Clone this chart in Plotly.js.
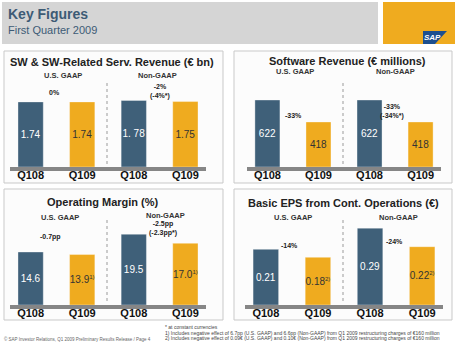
<!DOCTYPE html>
<html>
<head>
<meta charset="utf-8">
<script src="https://cdn.plot.ly/plotly-3.0.1.min.js"></script>
<style>html,body{margin:0;padding:0;background:#fff;}#chart{width:460px;height:351px;}</style>
</head>
<body>
<div id="chart"></div>
<script>
// ---- data ----
const categories = ["GAAP Q108", "GAAP Q109", "NG Q108", "NG Q109"];
const tickLabels = ["Q108", "Q109", "Q108", "Q109"];
const swRelatedRevenue = [1.74, 1.74, 1.78, 1.75];
const swRelatedText = ["1.74", "1.74", "1. 78", "1.75"];
const softwareRevenue = [622, 418, 622, 418];
const softwareText = ["622", "418", "622", "418"];
const operatingMargin = [14.6, 13.9, 19.5, 17.0];
const operatingText = ["14.6", "13.9<sup><span style='font-size:6px'>1)</span></sup>", "19.5", "17.0<sup><span style='font-size:6px'>1)</span></sup>"];
const basicEps = [0.21, 0.18, 0.29, 0.22];
const epsText = ["0.21", "0.18<sup><span style='font-size:6px'>2)</span></sup>", "0.29", "0.22<sup><span style='font-size:6px'>2)</span></sup>"];

const BLUE = "#3f6079", ORANGE = "#efab1f";
const barColors = [BLUE, ORANGE, BLUE, ORANGE];
const textColors = ["#ffffff", "#333333", "#ffffff", "#333333"];
const W = 460, H = 351;
const px = v => v / W;
const py = v => 1 - v / H;
const FONT = "Liberation Sans, Arial, sans-serif";

function barTrace(vals, txt, n) {
  return {
    type: "bar", x: categories, y: vals, text: txt,
    xaxis: "x" + (n === 1 ? "" : n), yaxis: "y" + (n === 1 ? "" : n),
    width: 0.49, textposition: "inside", insidetextanchor: "middle",
    constraintext: "none", textangle: 0, cliponaxis: false,
    textfont: {family: FONT, size: 10, color: textColors},
    marker: {color: barColors, line: {color: "rgba(255,255,255,0.35)", width: 1}},
    hoverinfo: "skip", showlegend: false
  };
}

const data = [
  barTrace(swRelatedRevenue, swRelatedText, 1),
  barTrace(softwareRevenue, softwareText, 2),
  barTrace(operatingMargin, operatingText, 3),
  barTrace(basicEps, epsText, 4)
];

function xAx(l, r, anchor) {
  return {domain: [px(l), px(r)], anchor: anchor, type: "category", categoryarray: categories,
    range: [-0.4, 3.4], tickvals: categories, ticktext: tickLabels,
    showline: true, linecolor: "#868686", linewidth: 4, ticks: "", showgrid: false,
    zeroline: false, fixedrange: true, ticklabelstandoff: -5,
    tickfont: {family: FONT, size: 11, color: "#111", weight: "bold"}};
}
function yAx(base, top, max, anchor) {
  return {domain: [py(base), py(top)], anchor: anchor, range: [0, max], visible: false,
    showgrid: false, zeroline: false, fixedrange: true};
}

const shapes = [];
function rect(x0, y0, x1, y1, fill, line) {
  shapes.push({type: "rect", xref: "paper", yref: "paper", layer: "below",
    x0: px(x0), x1: px(x1), y0: py(y1), y1: py(y0), fillcolor: fill,
    line: {color: line || fill, width: line ? 1 : 0}});
}
rect(2, 2, 378, 44, "#d5d5d5");
rect(383, 2, 455, 44, "#efab1f");
shapes.push({type: "path", xref: "paper", yref: "paper",
  path: `M ${px(423)} ${py(31)} L ${px(447)} ${py(31)} L ${px(435)} ${py(44)} L ${px(423)} ${py(44)} Z`,
  fillcolor: "#1d4f8f", line: {width: 0}});
// panel boxes
rect(4, 51, 223, 183, "#fcfcfc", "#c9c9c9");
rect(234, 51, 452, 183, "#fcfcfc", "#c9c9c9");
rect(4, 189, 223, 320, "#fcfcfc", "#c9c9c9");
rect(234, 189, 452, 320, "#fcfcfc", "#c9c9c9");
// dotted separators
function sep(x, y0, y1) {
  shapes.push({type: "line", xref: "paper", yref: "paper", x0: px(x), x1: px(x),
    y0: py(y0), y1: py(y1), line: {color: "#9a9a9a", width: 1, dash: "dot"}});
}
sep(107, 83, 164); sep(343, 83, 164); sep(107, 220, 302); sep(343, 220, 302);

const annotations = [];
function txt(text, x, y, size, opts) {
  opts = opts || {};
  annotations.push({text: text, xref: "paper", yref: "paper", x: px(x), y: py(y),
    xanchor: opts.xanchor || "center", yanchor: "middle", showarrow: false,
    align: opts.align || "center",
    font: {family: FONT, size: size, color: opts.color || "#222",
      weight: opts.bold === false ? "normal" : "bold"}});
}
txt("Key Figures", 6, 14, 14, {xanchor: "left", color: "#3d5b75"});
txt("First Quarter 2009", 6, 30, 11, {xanchor: "left", color: "#3d5b75", bold: false});
txt("<i>SAP</i>", 432, 38, 8, {color: "#ffffff"});

txt("SW & SW-Related Serv. Revenue (€ bn)", 112, 62, 11);
txt("Software Revenue (€ millions)", 347, 61, 11);
txt("Operating Margin (%)", 103, 202, 11);
txt("Basic EPS from Cont. Operations (€)", 343, 203, 11);

const sub = 7.5, chg = 7;
txt("U.S. GAAP", 63, 75, sub, {color: "#333"}); txt("Non-GAAP", 157, 75, sub, {color: "#333"});
txt("U.S. GAAP", 295, 72, sub, {color: "#333"}); txt("Non-GAAP", 395, 72, sub, {color: "#333"});
txt("U.S. GAAP", 60, 217, sub, {color: "#333"}); txt("Non-GAAP", 165, 215, sub, {color: "#333"});
txt("U.S. GAAP", 293, 217, sub, {color: "#333"}); txt("Non-GAAP", 398, 217, sub, {color: "#333"});

txt("0%", 54, 93, chg);
txt("-2%<br>(-4%*)", 160, 91, chg);
txt("-33%", 293, 116, chg);
txt("-33%<br>(-34%*)", 392, 111, chg);
txt("-0.7pp", 50, 237, chg);
txt("-2.5pp<br>(-2.3pp*)", 163, 228, chg);
txt("-14%", 289, 246, chg);
txt("-24%", 394, 241, chg);

txt("© SAP Investor Relations, Q1 2009 Preliminary Results Release / Page 4", 2, 339, 4.5, {xanchor: "left", bold: false, color: "#666"});
txt("* at constant currencies", 163, 327, 5, {xanchor: "left", bold: false, color: "#444"});
txt("1) Includes negative effect of 6.7pp (U.S. GAAP) and 6.6pp (Non-GAAP) from Q1 2009 restructuring charges of €160 million", 163, 332.5, 5, {xanchor: "left", bold: false, color: "#444"});
txt("2) Includes negative effect of 0.09€ (U.S. GAAP) and 0.10€ (Non-GAAP) from Q1 2009 restructuring charges of €160 million", 163, 338, 5, {xanchor: "left", bold: false, color: "#444"});

const layout = {
  width: W, height: H, margin: {l: 0, r: 0, t: 0, b: 0},
  paper_bgcolor: "#ffffff", plot_bgcolor: "rgba(0,0,0,0)",
  font: {family: FONT}, showlegend: false,
  xaxis: xAx(10, 206, "y"), yaxis: yAx(167, 85, 82 / 37.4, "x"),
  xaxis2: xAx(247, 441, "y2"), yaxis2: yAx(167, 85, 82 / 0.1077, "x2"),
  xaxis3: xAx(10, 206, "y3"), yaxis3: yAx(305, 225, 80 / 3.63, "x3"),
  xaxis4: xAx(245, 443, "y4"), yaxis4: yAx(305, 225, 80 / 265, "x4"),
  shapes: shapes, annotations: annotations
};
Plotly.newPlot("chart", data, layout, {displayModeBar: false, staticPlot: true});
</script>
</body>
</html>
